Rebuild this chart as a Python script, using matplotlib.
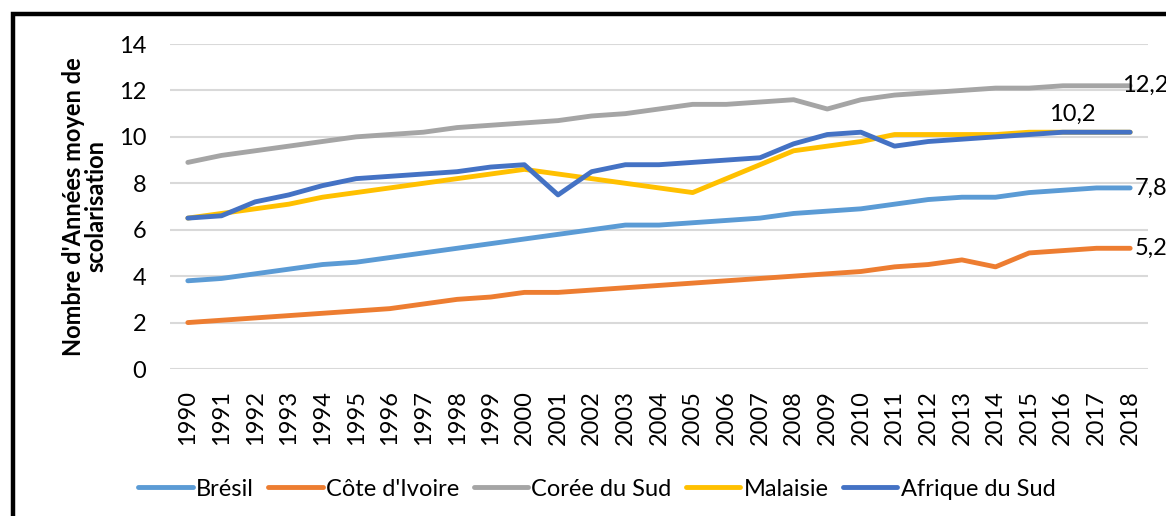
import matplotlib
matplotlib.use("Agg")
import matplotlib.pyplot as plt
from matplotlib.patches import Rectangle

years = list(range(1990, 2019))
bresil = [3.8, 3.9, 4.1, 4.3, 4.5, 4.6, 4.8, 5.0, 5.2, 5.4, 5.6, 5.8, 6.0, 6.2, 6.2,
          6.3, 6.4, 6.5, 6.7, 6.8, 6.9, 7.1, 7.3, 7.4, 7.4, 7.6, 7.7, 7.8, 7.8]
cote_ivoire = [2.0, 2.1, 2.2, 2.3, 2.4, 2.5, 2.6, 2.8, 3.0, 3.1, 3.3, 3.3, 3.4, 3.5, 3.6,
               3.7, 3.8, 3.9, 4.0, 4.1, 4.2, 4.4, 4.5, 4.7, 4.4, 5.0, 5.1, 5.2, 5.2]
coree = [8.9, 9.2, 9.4, 9.6, 9.8, 10.0, 10.1, 10.2, 10.4, 10.5, 10.6, 10.7, 10.9, 11.0, 11.2,
         11.4, 11.4, 11.5, 11.6, 11.2, 11.6, 11.8, 11.9, 12.0, 12.1, 12.1, 12.2, 12.2, 12.2]
malaisie = [6.5, 6.7, 6.9, 7.1, 7.4, 7.6, 7.8, 8.0, 8.2, 8.4, 8.6, 8.4, 8.2, 8.0, 7.8,
            7.6, 8.2, 8.8, 9.4, 9.6, 9.8, 10.1, 10.1, 10.1, 10.1, 10.2, 10.2, 10.2, 10.2]
afrique_sud = [6.5, 6.6, 7.2, 7.5, 7.9, 8.2, 8.3, 8.4, 8.5, 8.7, 8.8, 7.5, 8.5, 8.8, 8.8,
               8.9, 9.0, 9.1, 9.7, 10.1, 10.2, 9.6, 9.8, 9.9, 10.0, 10.1, 10.2, 10.2, 10.2]

series_names = ["Brésil", "Côte d'Ivoire", "Corée du Sud", "Malaisie", "Afrique du Sud"]
series_vals = [bresil, cote_ivoire, coree, malaisie, afrique_sud]
colors = ["#5B9BD5", "#ED7D31", "#A5A5A5", "#FFC000", "#4472C4"]

plt.rcParams['font.family'] = ['Lato', 'DejaVu Sans']
FS = 17

W, H = 1166, 516
fig = plt.figure(figsize=(W / 100, H / 100), dpi=100)
ax = fig.add_axes([170 / W, 1 - 369 / H, (1148 - 170) / W, (369 - 44) / H])

for name, vals, c in zip(series_names, series_vals, colors):
    ax.plot(years, vals, color=c, lw=3.5, label=name, solid_capstyle='round',
            solid_joinstyle='round', zorder=3)

ax.set_xlim(1989.47, 2018.53)
ax.set_ylim(0, 14)
ax.set_yticks(range(0, 15, 2))
ax.set_xticks(years)
ax.set_xticklabels([str(y) for y in years], rotation=90, fontsize=FS)
ax.tick_params(axis='y', labelsize=FS, length=0, pad=17, colors='black')
ax.tick_params(axis='x', length=0, pad=15)
ax.grid(axis='y', color='#D9D9D9', lw=1.5)
ax.set_axisbelow(True)
for s in ax.spines.values():
    s.set_visible(False)

ax.set_ylabel("Nombre d'Années moyen de\nscolarisation", fontsize=FS, fontweight='bold',
              labelpad=8, linespacing=1.0)

def fmt(v):
    return f"{v:.1f}".replace('.', ',')

ax.annotate(fmt(coree[-1]), (years[-1], coree[-1]), xytext=(-6, 0),
            textcoords='offset points', va='center', ha='left', fontsize=FS, annotation_clip=False)
ax.annotate(fmt(bresil[-1]), (years[-1], bresil[-1]), xytext=(3, 0),
            textcoords='offset points', va='center', ha='left', fontsize=FS, annotation_clip=False)
ax.annotate(fmt(cote_ivoire[-1]), (years[-1], cote_ivoire[-1]), xytext=(3, 0),
            textcoords='offset points', va='center', ha='left', fontsize=FS, annotation_clip=False)
ax.annotate(fmt(afrique_sud[-3]), (years[-3], afrique_sud[-3]), xytext=(7, 13),
            textcoords='offset points', va='center', ha='center', fontsize=FS, annotation_clip=False)

handles, labels = ax.get_legend_handles_labels()
fig.legend(handles, labels, loc='center', bbox_to_anchor=(597 / W, 1 - 489 / H), ncol=5,
           frameon=False, fontsize=FS, handlelength=2.3, handletextpad=0.15,
           columnspacing=0.6)

# outer black frame (partially cropped)
fig.patches.append(Rectangle((13 / W, -0.2), 1.2, 1.2 - 14 / H, transform=fig.transFigure,
                             fill=False, edgecolor='black', lw=3.2, zorder=10))

fig.savefig("out.png", dpi=100)
